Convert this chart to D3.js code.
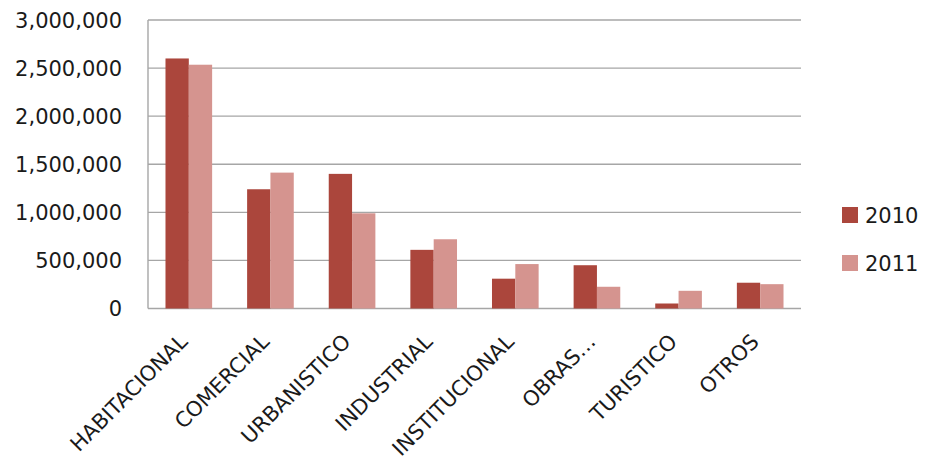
<!DOCTYPE html>
<html>
<head>
<meta charset="utf-8">
<script src="https://cdn.jsdelivr.net/npm/d3@7"></script>
<style>
  body { margin: 0; background: #fff; }
  text { font-family: "DejaVu Sans", sans-serif; fill: #1a1a1a; }
</style>
</head>
<body>
<svg id="chart" width="925" height="464"></svg>
<script>

var categories = ['HABITACIONAL', 'COMERCIAL', 'URBANISTICO', 'INDUSTRIAL',
    'INSTITUCIONAL', 'OBRAS…', 'TURISTICO', 'OTROS'];
var seriesNames = ['2010', '2011'];
var values2010 = [2600000, 1240000, 1400000, 610000, 310000, 450000, 52000, 268000];
var values2011 = [2535000, 1413000, 990000, 720000, 462000, 226000, 184000, 253000];
var yTicks = [0, 500000, 1000000, 1500000, 2000000, 2500000, 3000000];
var colors = ['#AB463C', '#D5948F'];

var svg = d3.select('#chart');

var plot = { left: 148, right: 801, top: 20, bottom: 308.5 };

var x = d3.scaleBand()
    .domain(categories)
    .range([plot.left, plot.right])
    .paddingInner(0)
    .paddingOuter(0);

// 150% gap: each bar is band / 3.5
var barW = x.bandwidth() / 3.5;

var y = d3.scaleLinear()
    .domain([0, 3000000])
    .range([plot.bottom, plot.top]);

var fmt = d3.format(',');

// gridlines
svg.append('g')
    .selectAll('line')
    .data(yTicks)
    .enter().append('line')
    .attr('x1', plot.left)
    .attr('x2', plot.right)
    .attr('y1', function (d) { return y(d); })
    .attr('y2', function (d) { return y(d); })
    .attr('stroke', '#a6a6a6')
    .attr('stroke-width', 1.4);

// value axis line
svg.append('line')
    .attr('x1', plot.left).attr('x2', plot.left)
    .attr('y1', plot.top).attr('y2', plot.bottom)
    .attr('stroke', '#a6a6a6')
    .attr('stroke-width', 1.4);

// y labels
svg.append('g')
    .selectAll('text')
    .data(yTicks)
    .enter().append('text')
    .attr('x', 122)
    .attr('y', function (d) { return y(d); })
    .attr('dy', '0.36em')
    .attr('text-anchor', 'end')
    .style('font-size', '21px')
    .text(function (d) { return fmt(d); });

// bars
var series = [values2010, values2011];
series.forEach(function (vals, si) {
    svg.append('g')
        .selectAll('rect')
        .data(vals)
        .enter().append('rect')
        .attr('x', function (d, i) {
            return x(categories[i]) + x.bandwidth() / 2 - barW + si * barW;
        })
        .attr('y', function (d) { return y(d); })
        .attr('width', barW)
        .attr('height', function (d) { return plot.bottom - y(d); })
        .attr('fill', colors[si]);
});

// category labels, rotated
svg.append('g')
    .selectAll('text')
    .data(categories)
    .enter().append('text')
    .attr('transform', function (d) {
        var cx = x(d) + x.bandwidth() / 2;
        return 'translate(' + cx + ',' + 343 + ') rotate(-45)';
    })
    .attr('text-anchor', 'end')
    .style('font-size', '21px')
    .text(function (d) { return d; });

// legend
var legend = svg.append('g')
    .selectAll('g')
    .data(seriesNames)
    .enter().append('g')
    .attr('transform', function (d, i) { return 'translate(842,' + (207 + i * 48) + ')'; });

legend.append('rect')
    .attr('width', 16)
    .attr('height', 16)
    .attr('fill', function (d, i) { return colors[i]; });

legend.append('text')
    .attr('x', 23)
    .attr('y', 8)
    .attr('dy', '0.36em')
    .style('font-size', '21px')
    .text(function (d) { return d; });

</script>
</body>
</html>
